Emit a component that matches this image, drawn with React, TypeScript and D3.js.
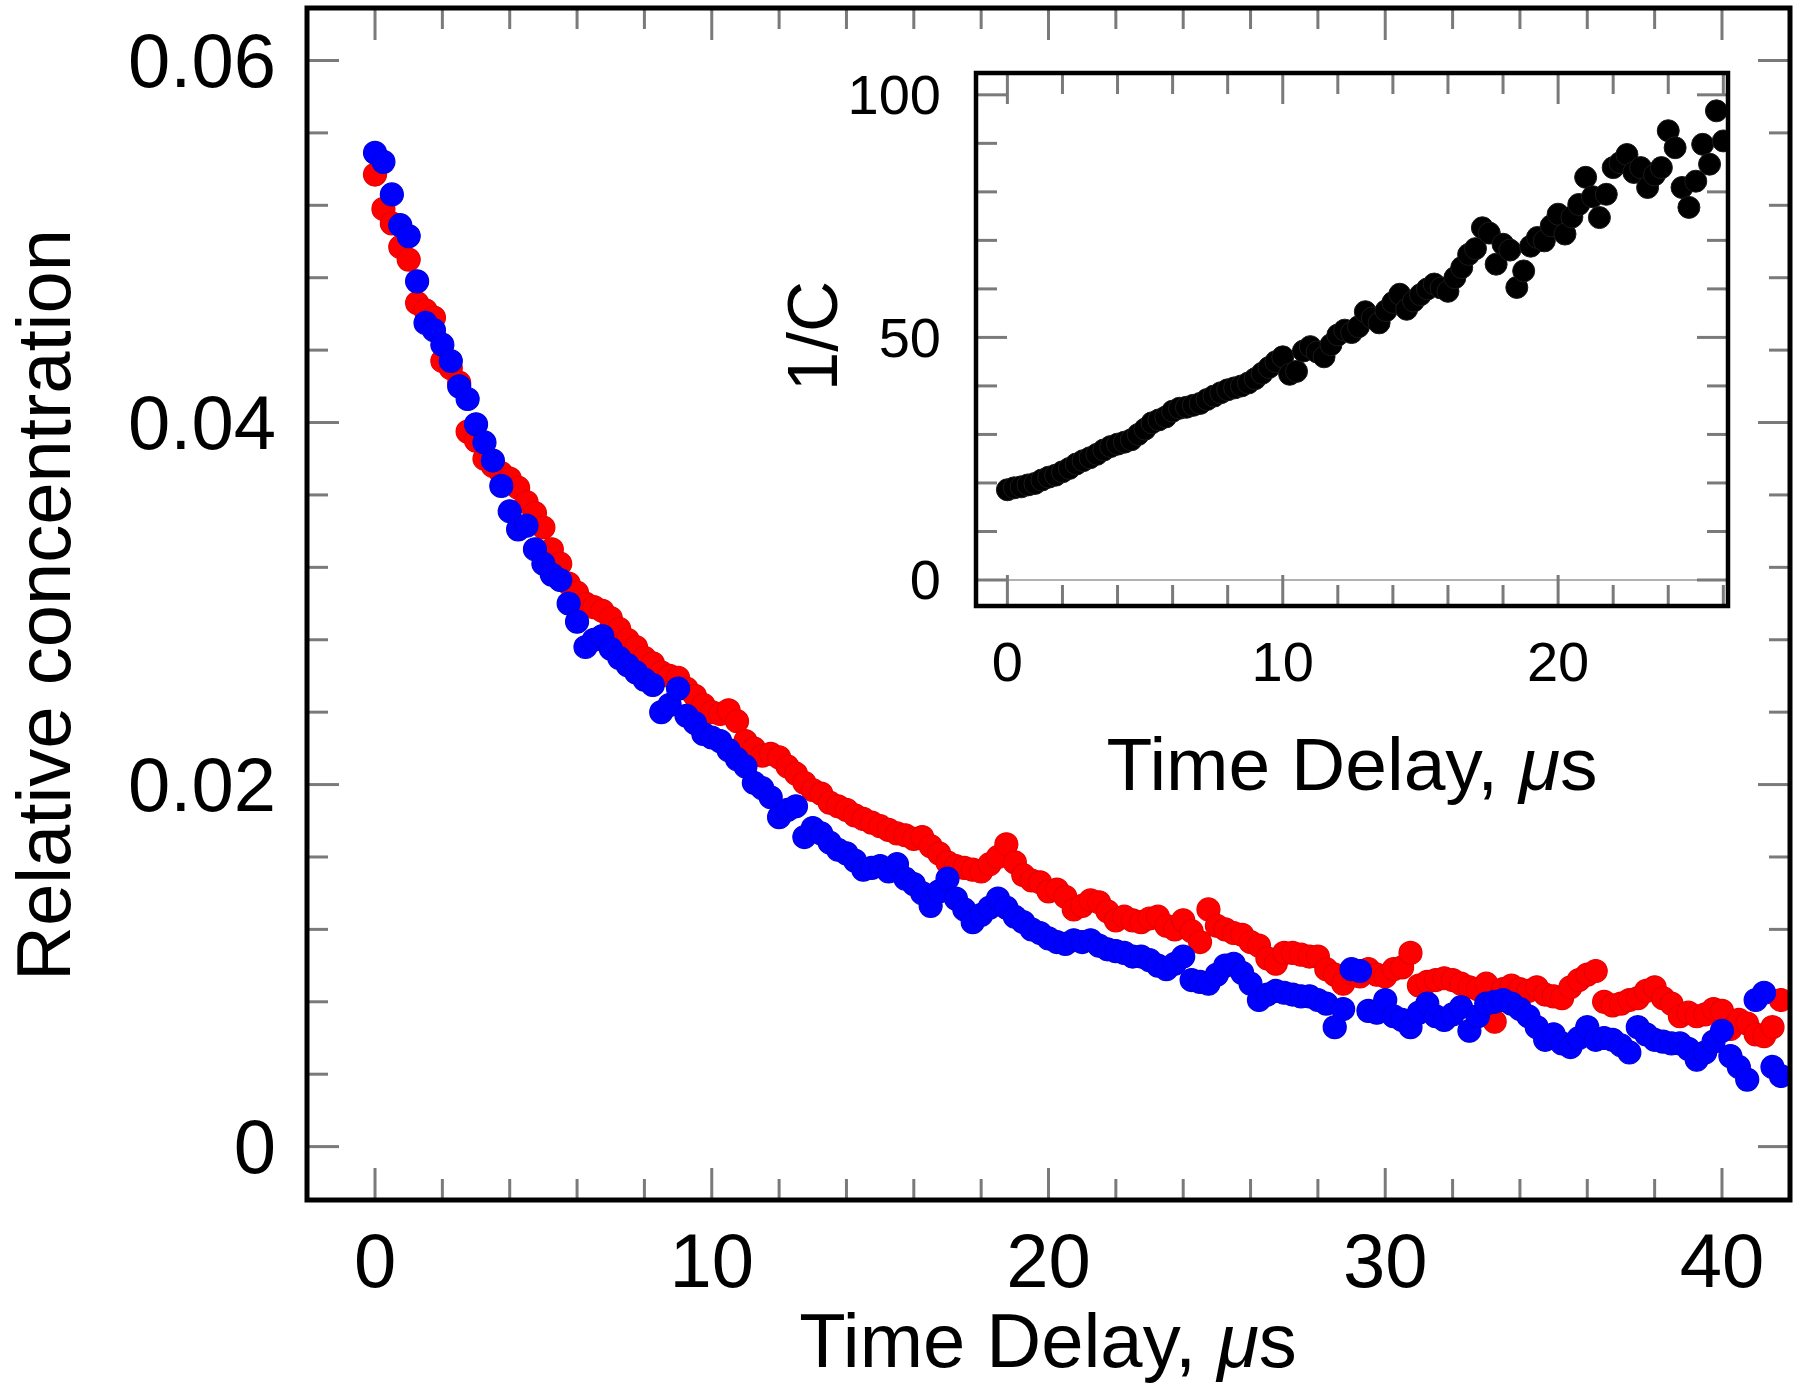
import React from 'react';
import * as d3 from 'd3';

// ---- Data ----
const timeStep = 0.25; // μs between samples
const redConc = [
  0.0537,0.0518,0.0510,0.0497,0.0490,0.0466,0.0462,0.0458,0.0434,0.0430,
  0.0422,0.0395,0.0390,0.0380,0.0376,0.0372,0.0369,0.0364,0.0356,0.0350,
  0.0342,0.0330,0.0322,0.0311,0.0306,0.0300,0.0298,0.0296,0.0292,0.0286,
  0.0280,0.0276,0.0270,0.0267,0.0262,0.0260,0.0259,0.0253,0.0249,0.0244,
  0.0240,0.0239,0.0241,0.0235,0.0224,0.0220,0.0216,0.0217,0.0215,0.0210,
  0.0206,0.0201,0.0197,0.0195,0.0190,0.0188,0.0186,0.0183,0.0181,0.0179,
  0.0177,0.0175,0.0173,0.0172,0.0170,0.0171,0.0166,0.0162,0.0157,0.0155,
  0.0154,0.0153,0.0152,0.0156,0.0160,0.0167,0.0157,0.0150,0.0147,0.0146,
  0.0141,0.0142,0.0138,0.0131,0.0133,0.0136,0.0135,0.0130,0.0125,0.0127,
  0.0125,0.0124,0.0126,0.0127,0.0122,0.0120,0.0125,0.0119,0.0113,0.0131,
  0.0122,0.0120,0.0118,0.0117,0.0113,0.0111,0.0104,0.0101,0.0107,0.0107,
  0.0106,0.0105,0.0105,0.0098,0.0095,0.0090,0.0096,0.0094,0.0098,0.0095,
  0.0094,0.0098,0.0099,0.0107,0.0089,0.0091,0.0092,0.0093,0.0092,0.0090,
  0.0088,0.0087,0.0090,0.0069,0.0087,0.0089,0.0087,0.0086,0.0088,0.0084,
  0.0083,0.0082,0.0088,0.0092,0.0095,0.0097,0.0080,0.0078,0.0079,0.0081,
  0.0082,0.0086,0.0088,0.0082,0.0079,0.0072,0.0074,0.0072,0.0073,0.0076,
  0.0075,0.0065,0.0070,0.0068,0.0062,0.0061,0.0066,0.0081,
];
const blueConc = [
  0.0549,0.0544,0.0526,0.0509,0.0503,0.0478,0.0455,0.0451,0.0443,0.0434,
  0.0420,0.0413,0.0399,0.0389,0.0379,0.0365,0.0351,0.0341,0.0343,0.0330,
  0.0322,0.0316,0.0313,0.0300,0.0290,0.0276,0.0280,0.0282,0.0275,0.0270,
  0.0266,0.0262,0.0258,0.0255,0.0240,0.0244,0.0253,0.0238,0.0234,0.0228,
  0.0226,0.0224,0.0219,0.0214,0.0210,0.0201,0.0198,0.0193,0.0182,0.0186,
  0.0188,0.0171,0.0176,0.0173,0.0168,0.0164,0.0162,0.0158,0.0153,0.0154,
  0.0155,0.0152,0.0156,0.0148,0.0145,0.0140,0.0133,0.0141,0.0148,0.0137,
  0.0131,0.0124,0.0128,0.0132,0.0137,0.0132,0.0127,0.0124,0.0120,0.0118,
  0.0115,0.0113,0.0112,0.0114,0.0113,0.0114,0.0111,0.0109,0.0108,0.0107,
  0.0105,0.0105,0.0103,0.0100,0.0098,0.0101,0.0105,0.0092,0.0091,0.0090,
  0.0095,0.0100,0.0101,0.0096,0.0090,0.0081,0.0084,0.0086,0.0085,0.0084,
  0.0083,0.0083,0.0081,0.0079,0.0066,0.0076,0.0098,0.0097,0.0075,0.0074,
  0.0081,0.0072,0.0070,0.0066,0.0074,0.0079,0.0072,0.0070,0.0073,0.0077,
  0.0064,0.0072,0.0079,0.0080,0.0081,0.0079,0.0076,0.0072,0.0066,0.0059,
  0.0062,0.0057,0.0055,0.0060,0.0066,0.0059,0.0060,0.0059,0.0056,0.0052,
  0.0066,0.0062,0.0059,0.0058,0.0057,0.0057,0.0054,0.0048,0.0052,0.0058,
  0.0064,0.0050,0.0044,0.0037,0.0081,0.0085,0.0044,0.0039,
];
const insetInvC = [
  18.6,19.0,19.2,19.6,19.9,20.6,21.2,21.6,22.3,23.0,
  23.9,24.6,25.2,25.9,26.8,27.5,28.0,28.4,28.9,30.0,
  31.1,32.4,33.0,33.6,34.8,35.4,35.6,36.0,36.4,37.2,
  37.9,38.6,39.2,39.6,40.0,40.6,41.5,42.6,43.8,45.0,
  46.0,42.4,43.0,47.2,48.1,47.0,46.0,48.5,50.5,51.5,
  51.0,52.2,55.3,54.0,53.0,55.5,57.2,58.9,55.8,57.5,
  58.8,60.0,61.0,60.2,59.5,62.3,64.4,67.1,68.3,72.6,
  71.5,65.1,69.2,68.0,60.3,63.7,68.8,70.6,69.9,73.0,
  75.4,71.3,74.8,77.4,83.0,79.0,74.7,79.5,85.0,86.0,
  87.7,84.0,85.0,80.9,83.5,85.0,92.6,89.1,80.9,76.8,
  82.2,89.8,85.7,96.7,90.5,
];

const mainXMajor = [0, 10, 20, 30, 40];
const mainXLabels = ['0', '10', '20', '30', '40'];
const mainYMajor = [0, 0.02, 0.04, 0.06];
const mainYLabels = ['0', '0.02', '0.04', '0.06'];
const insetXMajor = [0, 10, 20];
const insetXLabels = ['0', '10', '20'];
const insetYMajor = [0, 50, 100];
const insetYLabels = ['0', '50', '100'];
const mainXMinorStep = 2;
const mainYMinorStep = 0.004;
const insetXMinorStep = 2;
const insetYMinorStep = 10;

const FONT = "'Liberation Sans', Arial, Helvetica, sans-serif";
const TICK = '#7a7a7a';

type Frame = { x0: number; x1: number; y0: number; y1: number };

function Ticks({ frame, xs, ys, xMajor, yMajor, xScale, yScale, maj, min }: any) {
  const isMajX = (v: number) => xMajor.some((m: number) => Math.abs(m - v) < 1e-9);
  const isMajY = (v: number) => yMajor.some((m: number) => Math.abs(m - v) < 1e-9);
  const els: any[] = [];
  xs.forEach((v: number, i: number) => {
    const x = xScale(v);
    const L = isMajX(v) ? maj : min;
    els.push(<line key={'xb' + i} x1={x} x2={x} y1={frame.y1} y2={frame.y1 - L} />);
    els.push(<line key={'xt' + i} x1={x} x2={x} y1={frame.y0} y2={frame.y0 + L} />);
  });
  ys.forEach((v: number, i: number) => {
    const y = yScale(v);
    const L = isMajY(v) ? maj : min;
    els.push(<line key={'yl' + i} x1={frame.x0} x2={frame.x0 + L} y1={y} y2={y} />);
    els.push(<line key={'yr' + i} x1={frame.x1} x2={frame.x1 - L} y1={y} y2={y} />);
  });
  return <g stroke={TICK} strokeWidth={3}>{els}</g>;
}

export default function App() {
  const W = 1800, H = 1390;
  const main: Frame = { x0: 307, x1: 1790, y0: 8, y1: 1200 };
  const inset: Frame = { x0: 976, x1: 1728, y0: 73, y1: 606 };

  const x = d3.scaleLinear().domain([-2.02, 42.02]).range([main.x0, main.x1]);
  const y = d3.scaleLinear().domain([-0.00295, 0.0629]).range([main.y1, main.y0]);
  const xi = d3.scaleLinear().domain([-1.14, 26.17]).range([inset.x0, inset.x1]);
  const yi = d3.scaleLinear().domain([-5.36, 104.5]).range([inset.y1, inset.y0]);

  const tRed = redConc.map((_, i) => i * timeStep);
  const tBlue = blueConc.map((_, i) => i * timeStep);
  const tIn = insetInvC.map((_, i) => i * timeStep);

  const mainXMinor = d3.range(0, 41).filter((v) => v % mainXMinorStep === 0);
  const mainYMinor = d3.range(0, 16).map((i) => +(i * mainYMinorStep).toFixed(4));
  const insetXMinor = d3.range(0, 27).filter((v) => v % insetXMinorStep === 0);
  const insetYMinor = d3.range(0, 11).map((i) => i * insetYMinorStep);

  return (
    <svg width={W} height={H} style={{ position: 'absolute', left: 0, top: 0, display: 'block', background: '#fff' }}
      fontFamily={FONT}>
      <defs>
        <clipPath id="mainClip">
          <rect x={main.x0} y={main.y0} width={main.x1 - main.x0} height={main.y1 - main.y0} />
        </clipPath>
        <clipPath id="insetClip">
          <rect x={inset.x0} y={inset.y0} width={inset.x1 - inset.x0} height={inset.y1 - inset.y0} />
        </clipPath>
      </defs>
      <rect x={0} y={0} width={W} height={H} fill="#fff" />

      {/* main ticks */}
      <Ticks frame={main} xs={mainXMinor} ys={mainYMinor} xMajor={mainXMajor} yMajor={mainYMajor}
        xScale={x} yScale={y} maj={32} min={21} />

      {/* main data */}
      <g clipPath="url(#mainClip)">
        {redConc.map((c, i) => (
          <circle key={'r' + i} cx={x(tRed[i])} cy={y(c)} r={11.5} fill="#ff0000" stroke="#e80000" strokeWidth={1.2} />
        ))}
        {blueConc.map((c, i) => (
          <circle key={'b' + i} cx={x(tBlue[i])} cy={y(c)} r={11.5} fill="#0000ff" stroke="#0000e0" strokeWidth={1.2} />
        ))}
      </g>

      {/* inset */}
      <rect x={inset.x0} y={inset.y0} width={inset.x1 - inset.x0} height={inset.y1 - inset.y0} fill="#fff" />
      <line x1={inset.x0} x2={inset.x1} y1={yi(0)} y2={yi(0)} stroke="#b0b0b0" strokeWidth={2} />
      <Ticks frame={inset} xs={insetXMinor} ys={insetYMinor} xMajor={insetXMajor} yMajor={insetYMajor}
        xScale={xi} yScale={yi} maj={31} min={21} />
      <g clipPath="url(#insetClip)">
        {insetInvC.map((v, i) => (
          <circle key={'k' + i} cx={xi(tIn[i])} cy={yi(v)} r={11} fill="#000" stroke="#1a1a1a" strokeWidth={1} />
        ))}
      </g>
      <rect x={inset.x0} y={inset.y0} width={inset.x1 - inset.x0} height={inset.y1 - inset.y0}
        fill="none" stroke="#000" strokeWidth={4.5} />

      {/* main frame */}
      <rect x={main.x0} y={main.y0} width={main.x1 - main.x0} height={main.y1 - main.y0}
        fill="none" stroke="#000" strokeWidth={5} />

      {/* main tick labels */}
      <g fontSize={76} fill="#000">
        {mainXMajor.map((v, i) => (
          <text key={'mxl' + i} x={x(v)} y={1287} textAnchor="middle">{mainXLabels[i]}</text>
        ))}
        {mainYMajor.map((v, i) => (
          <text key={'myl' + i} x={276} y={y(v)} textAnchor="end" dominantBaseline="central">{mainYLabels[i]}</text>
        ))}
      </g>
      <text x={1048} y={1367} fontSize={76} textAnchor="middle">
        Time Delay, <tspan fontStyle="italic">μ</tspan>s
      </text>
      <text transform="translate(70,605) rotate(-90)" fontSize={76} textAnchor="middle">Relative concentration</text>

      {/* inset labels */}
      <g fontSize={56} fill="#000">
        {insetXMajor.map((v, i) => (
          <text key={'ixl' + i} x={xi(v)} y={681} textAnchor="middle">{insetXLabels[i]}</text>
        ))}
        {insetYMajor.map((v, i) => (
          <text key={'iyl' + i} x={941} y={yi(v)} textAnchor="end" dominantBaseline="central">{insetYLabels[i]}</text>
        ))}
      </g>
      <text x={1352} y={790} fontSize={75} textAnchor="middle">
        Time Delay, <tspan fontStyle="italic">μ</tspan>s
      </text>
      <text transform="translate(837,336) rotate(-90)" fontSize={71} textAnchor="middle">1/C</text>
    </svg>
  );
}
